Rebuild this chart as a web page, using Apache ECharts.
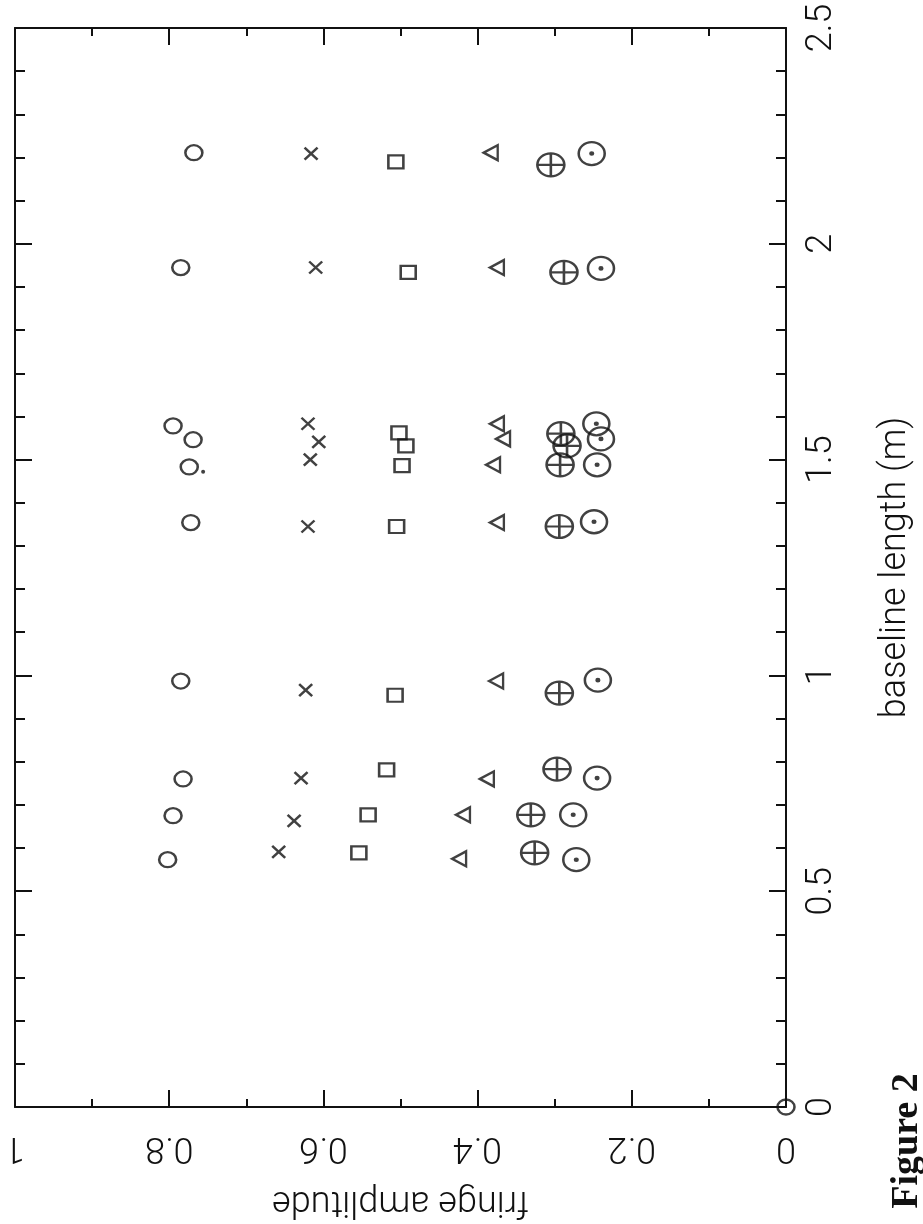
<!DOCTYPE html>
<html>
<head>
<meta charset="utf-8">
<script src="https://cdn.jsdelivr.net/npm/echarts@6/dist/echarts.min.js"></script>
<style>
  html, body { margin: 0; padding: 0; background: #fff; }
  #chart { width: 923px; height: 1224px; }
</style>
</head>
<body>
<div id="chart"></div>
<script>
// Fringe amplitude versus baseline length, one marker style per data set.
const amplitudeTicks = [0, 0.2, 0.4, 0.6, 0.8, 1];
const baselineTicks = [0, 0.5, 1, 1.5, 2, 2.5];

const circleBaseline = [2.211, 1.945, 1.578, 1.546, 1.483, 1.354, 0.987, 0.760, 0.675, 0.573, 0];
const circleAmp      = [0.768, 0.785, 0.795, 0.769, 0.774, 0.772, 0.785, 0.782, 0.795, 0.802, 0];

const crossBaseline = [2.209, 1.945, 1.583, 1.541, 1.500, 1.345, 0.966, 0.762, 0.663, 0.591];
const crossAmp      = [0.616, 0.610, 0.620, 0.606, 0.617, 0.620, 0.623, 0.629, 0.638, 0.658];

const squareBaseline = [2.190, 1.934, 1.562, 1.532, 1.486, 1.345, 0.954, 0.781, 0.677, 0.589];
const squareAmp      = [0.506, 0.490, 0.502, 0.493, 0.498, 0.505, 0.507, 0.518, 0.542, 0.554];

const triangleBaseline = [2.211, 1.945, 1.583, 1.548, 1.488, 1.354, 0.987, 0.760, 0.677, 0.575];
const triangleAmp      = [0.383, 0.375, 0.375, 0.367, 0.380, 0.375, 0.376, 0.388, 0.419, 0.424];

const plusBaseline = [2.183, 1.934, 1.560, 1.532, 1.488, 1.345, 0.959, 0.783, 0.677, 0.589];
const plusAmp      = [0.305, 0.288, 0.292, 0.284, 0.293, 0.294, 0.294, 0.297, 0.331, 0.326];

const dotBaseline = [2.209, 1.943, 1.583, 1.548, 1.488, 1.356, 0.989, 0.762, 0.677, 0.573];
const dotAmp      = [0.252, 0.240, 0.246, 0.240, 0.245, 0.249, 0.244, 0.245, 0.276, 0.272];

const pointBaseline = [1.472];
const pointAmp      = [0.756];

function pairs(amp, base) {
  return amp.map((a, i) => [a, base[i]]);
}

const INK = '#111';
const LABEL_FONT = 'Roboto, "DejaVu Sans", sans-serif';

const SYM_CROSS = 'path://M0,0L10,10M10,0L0,10';
const SYM_LEFT_TRI = 'path://M0,5L10,0L10,10Z';
const SYM_CIRCLE_PLUS = 'path://M0,10A10,10 0 1,1 20,10A10,10 0 1,1 0,10Z M10,0L10,20 M0,10L20,10';
const SYM_CIRCLE_DOT = 'path://M0,10A10,10 0 1,1 20,10A10,10 0 1,1 0,10Z M9,10A1,1 0 1,1 11,10A1,1 0 1,1 9,10Z';

function openSeries(name, data, symbol, size) {
  return {
    name: name,
    type: 'scatter',
    data: data,
    symbol: symbol,
    symbolSize: size,
    clip: false,
    itemStyle: { color: 'rgba(0,0,0,0)', borderColor: INK, borderWidth: 2.4 },
    emphasis: { disabled: true }
  };
}

const tickStyle = { color: INK, width: 2 };

const chart = echarts.init(document.getElementById('chart'), null, { renderer: 'canvas' });

chart.setOption({
  backgroundColor: '#ffffff',
  animation: false,
  grid: { left: 15, right: 137, top: 28, bottom: 114, containLabel: false },
  xAxis: [
    {
      type: 'value', min: 0, max: 1, interval: 0.2, inverse: true, position: 'bottom',
      name: 'fringe amplitude', nameLocation: 'middle', nameGap: 76, nameRotate: 180,
      nameTextStyle: { fontFamily: LABEL_FONT, fontWeight: 300, fontSize: 36, color: INK },
      axisLine: { show: true, onZero: false, lineStyle: { color: INK, width: 2 } },
      axisTick: { show: true, inside: true, length: 17, lineStyle: tickStyle },
      minorTick: { show: true, splitNumber: 2, length: 8, lineStyle: tickStyle },
      splitLine: { show: false },
      axisLabel: {
        show: true, rotate: 180, margin: 22, fontFamily: LABEL_FONT, fontWeight: 300, fontSize: 36, color: INK,
        formatter: v => amplitudeTicks.includes(+v.toFixed(1)) ? String(+v.toFixed(1)) : ''
      }
    },
    {
      type: 'value', min: 0, max: 1, interval: 0.2, inverse: true, position: 'top',
      axisLine: { show: true, onZero: false, lineStyle: { color: INK, width: 2 } },
      axisTick: { show: true, inside: true, length: 17, lineStyle: tickStyle },
      minorTick: { show: true, splitNumber: 2, length: 8, lineStyle: tickStyle },
      splitLine: { show: false },
      axisLabel: { show: false }
    }
  ],
  yAxis: [
    {
      type: 'value', min: 0, max: 2.5, interval: 0.5, position: 'right',
      name: 'baseline length (m)', nameLocation: 'middle', nameGap: 92, nameRotate: 90,
      nameTextStyle: { fontFamily: LABEL_FONT, fontWeight: 300, fontSize: 36, color: INK },
      axisLine: { show: true, onZero: false, lineStyle: { color: INK, width: 2 } },
      axisTick: { show: true, inside: true, length: 17, lineStyle: tickStyle },
      minorTick: { show: true, splitNumber: 5, length: 10, lineStyle: tickStyle },
      splitLine: { show: false },
      axisLabel: {
        show: true, rotate: 90, margin: 18, fontFamily: LABEL_FONT, fontWeight: 300, fontSize: 36, color: INK,
        formatter: v => baselineTicks.includes(+v.toFixed(1)) ? String(+v.toFixed(1)) : ''
      }
    },
    {
      type: 'value', min: 0, max: 2.5, interval: 0.5, position: 'left',
      axisLine: { show: true, onZero: false, lineStyle: { color: INK, width: 2 } },
      axisTick: { show: true, inside: true, length: 17, lineStyle: tickStyle },
      minorTick: { show: true, splitNumber: 5, length: 10, lineStyle: tickStyle },
      splitLine: { show: false },
      axisLabel: { show: false }
    }
  ],
  graphic: [
    {
      type: 'text',
      x: 907, y: 1141,
      rotation: Math.PI / 2,
      style: {
        text: 'Figure 2',
        fontFamily: '"Liberation Serif", "DejaVu Serif", serif',
        fontWeight: 'bold',
        fontSize: 38,
        fill: '#111',
        align: 'center',
        verticalAlign: 'middle'
      }
    }
  ],
  series: [
    openSeries('circle', pairs(circleAmp, circleBaseline), 'circle', [17, 15]),
    openSeries('cross', pairs(crossAmp, crossBaseline), SYM_CROSS, [13, 12]),
    openSeries('square', pairs(squareAmp, squareBaseline), 'rect', [15, 13]),
    openSeries('triangle', pairs(triangleAmp, triangleBaseline), SYM_LEFT_TRI, [14, 15]),
    openSeries('circle plus', pairs(plusAmp, plusBaseline), SYM_CIRCLE_PLUS, [27, 23]),
    openSeries('circle dot', pairs(dotAmp, dotBaseline), SYM_CIRCLE_DOT, [26, 23]),
    {
      name: 'point', type: 'scatter', data: pairs(pointAmp, pointBaseline),
      symbol: 'circle', symbolSize: 4, itemStyle: { color: INK }, emphasis: { disabled: true }
    }
  ]
});
</script>
</body>
</html>
